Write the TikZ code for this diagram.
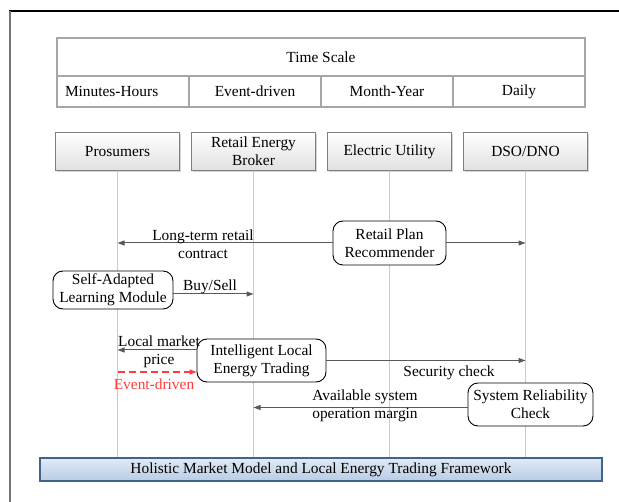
\documentclass[tikz,border=0pt]{standalone}
\usepackage{fontspec}
\setmainfont{Liberation Serif}
\usetikzlibrary{arrows.meta,shadows,calc}
\definecolor{arrowgray}{HTML}{595959}
\definecolor{lifeblue}{HTML}{B9CDE5}
\definecolor{tablegray}{HTML}{A6A6A6}
\definecolor{actoredge}{HTML}{7F7F7F}
\definecolor{bluetop}{HTML}{E2EAF5}
\definecolor{bluebot}{HTML}{B8CCE4}
\definecolor{blueedge}{HTML}{41648F}
\definecolor{evtred}{HTML}{FF3B3B}
\begin{document}
\begin{tikzpicture}[x=1pt,y=-1pt,
  every node/.style={font=\fontsize{15.4}{18}\selectfont, inner sep=0pt},
  cell/.style={draw=tablegray, line width=1.1pt, minimum height=31pt, minimum width=132pt},
  actor/.style={draw=actoredge, line width=0.8pt, top color=white, bottom color=black!12,
    minimum width=124pt, minimum height=38pt, align=center,
    drop shadow={shadow xshift=1.3pt, shadow yshift=-1.3pt, fill=black!35, opacity=0.5}},
  proc/.style={draw=black, line width=0.9pt, rounded corners=10pt, fill=white, align=center},
  msg/.style={draw=arrowgray, line width=1pt, -{Triangle[length=7pt,width=5pt]}},
  evt/.style={draw=evtred, line width=1.2pt, dash pattern=on 7pt off 4pt, -{Triangle[length=7pt,width=5pt]}},
  life/.style={draw=lifeblue, line width=0.8pt},
  lbl/.style={align=center}]
\useasboundingbox (0,0) rectangle (619,502);

% outer frame
\draw[black, line width=1.3pt] (9,11) -- (619,11);
\draw[black!55, line width=2pt] (10,11) -- (10,502);

% time scale table
\node[draw=tablegray, line width=1.1pt, minimum width=528pt, minimum height=38pt] (ts) at (321,57) {Time Scale};
\node[cell, text width=116pt, inner xsep=8pt, align=left] (c1) at (123,91.5) {Minutes-Hours};
\node[cell] (c2) at (255,91.5) {Event-driven};
\node[cell] (c3) at (387,91.5) {Month-Year};
\node[cell] (c4) at (519,91.5) {Daily};

% actors
\node[actor] (a1) at (117.5,151.5) {Prosumers};
\node[actor] (a2) at (253.5,151.5) {Retail Energy\\Broker};
\node[actor] (a3) at (389.5,151.5) {Electric Utility};
\node[actor] (a4) at (525.5,151.5) {DSO/DNO};

% bottom framework box
\node[draw=blueedge, line width=1.2pt, top color=bluetop, bottom color=bluebot,
  minimum width=562pt, minimum height=23pt] (fw) at (321,469.5)
  {Holistic Market Model and Local Energy Trading Framework};

% lifelines
\coordinate (l1) at (a1.south);
\coordinate (l2) at (a2.south);
\coordinate (l3) at (a3.south);
\coordinate (l4) at (a4.south);
\draw[life] (l1) -- (l1 |- fw.north);
\draw[life] (l2) -- (l2 |- fw.north);
\draw[life] (l3) -- (l3 |- fw.north);
\draw[life] (l4) -- (l4 |- fw.north);

% process boxes
\node[proc, minimum width=113pt, minimum height=44pt] (rpr) at (389.5,243) {Retail Plan\\Recommender};
\node[proc, minimum width=120pt, minimum height=38pt] (salm) at (113,290) {Self-Adapted\\Learning Module};
\node[proc, minimum width=129pt, minimum height=43pt] (ilet) at (261.5,360.5) {Intelligent Local\\Energy Trading};
\node[proc, minimum width=125pt, minimum height=43pt] (src) at (530.5,404.5) {System Reliability\\Check};

% messages
\draw[msg] (rpr.west) -- (rpr.west -| l1);
\draw[msg] (rpr.east) -- (rpr.east -| l4);
\coordinate (se) at ($(salm.east)+(0,4)$);
\draw[msg] (se) -- (se -| l2);
\coordinate (lw) at ($(ilet.west)+(0,-10.5)$);
\draw[msg] (lw) -- (lw -| l1);
\coordinate (ew) at ($(ilet.west)+(0,11.5)$);
\draw[evt] (ew -| l1) -- (ew);
\draw[msg] (ilet.east) -- (ilet.east -| l4);
\coordinate (sw) at ($(src.west)+(0,3)$);
\draw[msg] (sw) -- (sw -| l2);

% labels
\node[lbl] (lt) at (203,244) {Long-term retail\\contract};
\node (bs) at (210,287) {Buy/Sell};
\node[lbl] (lm) at (159,352) {Local market\\price};
\node[text=evtred] (ed) at (154,384) {Event-driven};
\node (sc) at (449,373) {Security check};
\node[lbl] (av) at (365,406) {Available system\\operation margin};
\end{tikzpicture}
\end{document}
